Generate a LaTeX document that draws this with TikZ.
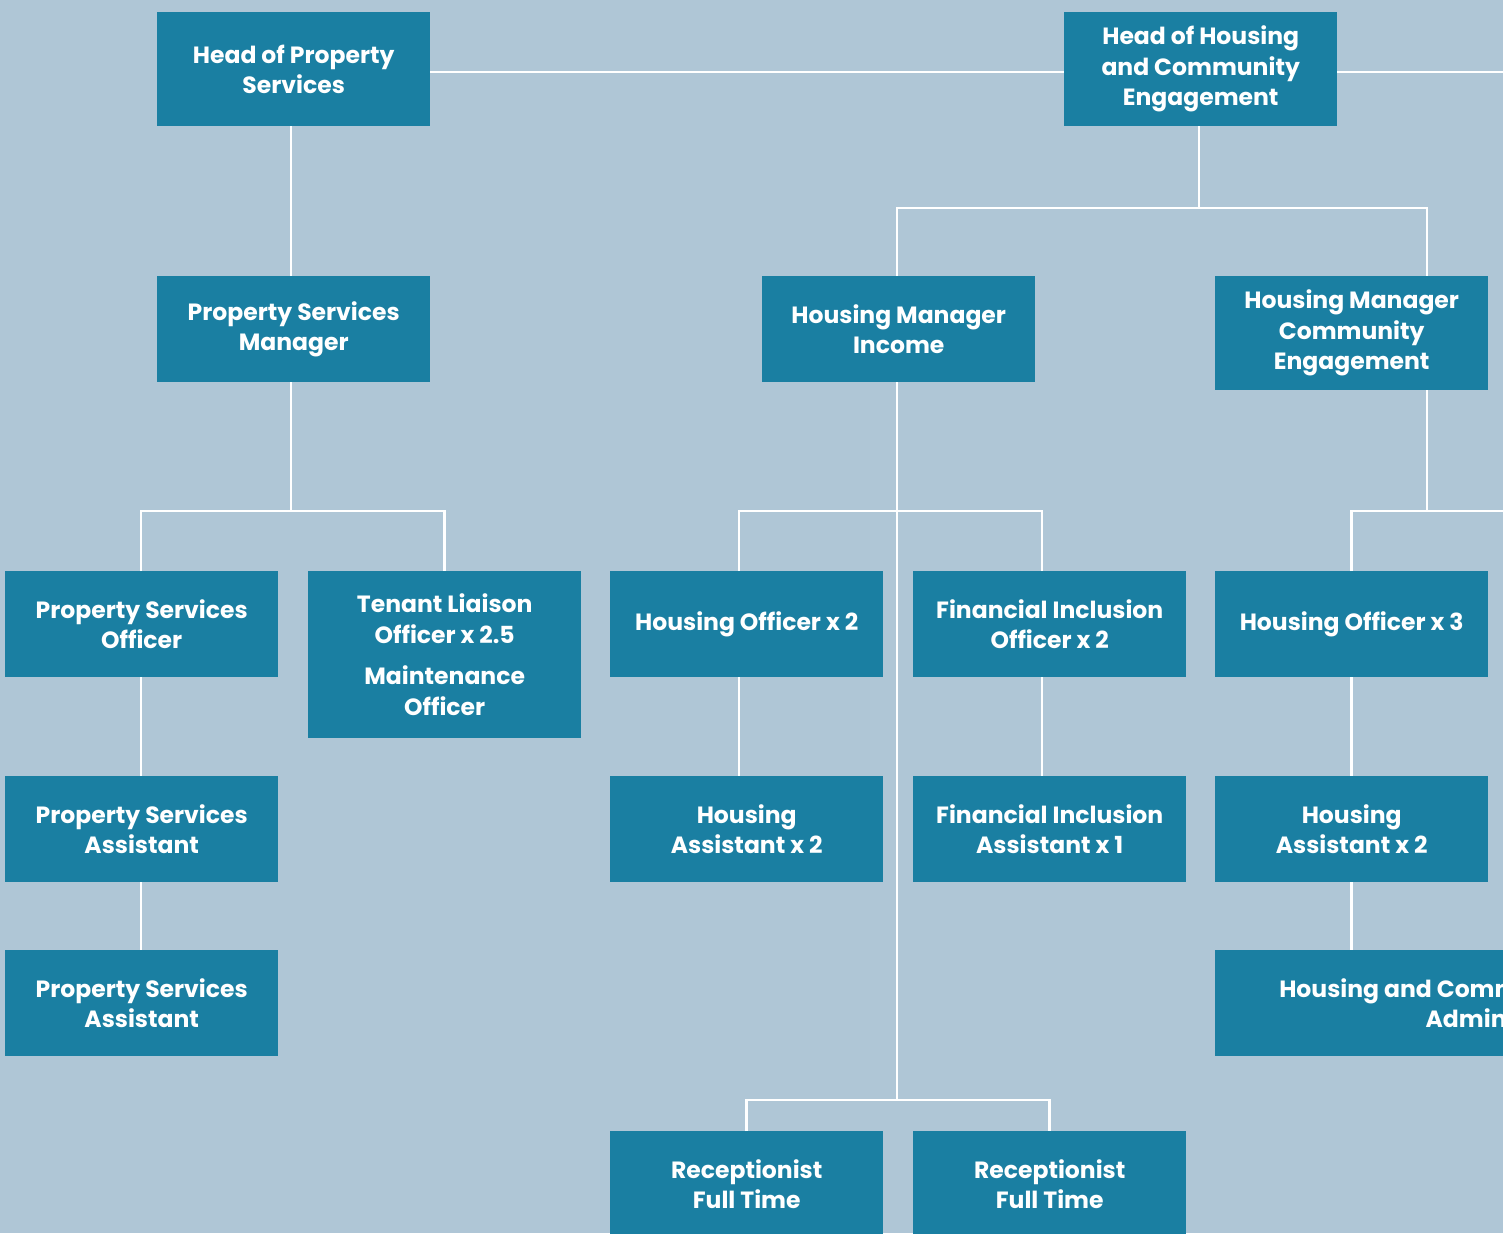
\documentclass[tikz,border=0pt]{standalone}
\usepackage{fontspec}
\setmainfont{Poppins}
\definecolor{bg}{HTML}{AFC6D6}
\definecolor{boxc}{HTML}{1A7FA2}
\begin{document}
\begin{tikzpicture}[x=1pt,y=-1pt,
  role/.style={fill=boxc, text=white, font=\fontsize{23.5}{30.5}\selectfont\bfseries, align=center,
    minimum width=273pt, minimum height=106pt, inner sep=0pt, anchor=north west},
  link/.style={draw=white, line width=2.5pt}]
\useasboundingbox (0,0) rectangle (1503,1233);
\fill[bg] (0,0) rectangle (1503,1233);
\clip (0,0) rectangle (1503,1233);
% nodes
\node[role, minimum height=114pt] (hps) at (157,12) {Head of Property\\Services};
\node[role, minimum height=114pt] (hhce) at (1064,12) {Head of Housing\\and Community\\Engagement};
\node[role] (psm) at (157,276) {Property Services\\Manager};
\node[role] (hmi) at (762,276) {Housing Manager\\Income};
\node[role, minimum height=114pt] (hmce) at (1215,276) {Housing Manager\\Community\\Engagement};
\node[role] (pso) at (5,571) {Property Services\\Officer};
\node[role, minimum height=167pt] (tlo) at (308,571) {Tenant Liaison\\Officer x 2.5\\[11pt]Maintenance\\Officer};
\node[role] (ho2) at (610,571) {Housing Officer x 2};
\node[role] (fio) at (913,571) {Financial Inclusion\\Officer x 2};
\node[role] (ho3) at (1215,571) {Housing Officer x 3};
\node[role] (psa1) at (5,776) {Property Services\\Assistant};
\node[role] (ha2) at (610,776) {Housing\\Assistant x 2};
\node[role] (fia) at (913,776) {Financial Inclusion\\Assistant x 1};
\node[role] (ha3) at (1215,776) {Housing\\Assistant x 2};
\node[role] (psa2) at (5,950) {Property Services\\Assistant};
\node[role, minimum width=592pt] (hca) at (1215,950) {Housing and Community Engagement\\Administrator};
\node[role] (rec1) at (610,1131) {Receptionist\\Full Time};
\node[role] (rec2) at (913,1131) {Receptionist\\Full Time};
% helper coordinates
\coordinate (bus1) at (0,208);
\coordinate (bus2) at (0,511);
\coordinate (bus3) at (0,511);
\coordinate (bus4) at (0,1100);
\coordinate (offR) at (1520,0);
\coordinate (hpsOut) at ([xshift=-2.5pt]hps.south);
\coordinate (psmIn) at ([xshift=-2.5pt]psm.north);
\coordinate (psmOut) at ([xshift=-2.5pt]psm.south);
\coordinate (hhceOut) at ([xshift=-1.5pt]hhce.south);
\coordinate (hmiIn) at ([xshift=-1.5pt]hmi.north);
\coordinate (hmiOut) at ([xshift=-1.5pt]hmi.south);
\coordinate (hmceIn) at ([xshift=75.5pt]hmce.north);
\coordinate (hmceOut) at ([xshift=75.5pt]hmce.south);
\coordinate (ho2In) at ([xshift=-7.5pt]ho2.north);
\coordinate (ho2Out) at ([xshift=-7.5pt]ho2.south);
\coordinate (ha2In) at ([xshift=-7.5pt]ha2.north);
\coordinate (fioIn) at ([xshift=-7.5pt]fio.north);
\coordinate (fioOut) at ([xshift=-7.5pt]fio.south);
\coordinate (fiaIn) at ([xshift=-7.5pt]fia.north);
\coordinate (hcaIn) at (ho3.south |- hca.north);
% connectors
\draw[link] ([yshift=-3pt]hps.east) -- ([yshift=-3pt]hhce.west);
\draw[link] ([yshift=-3pt]hhce.east) -- ([yshift=-3pt]offR |- hhce.east);
\draw[link] (hpsOut) -- (psmIn);
\draw[link] (hhceOut) -- (hhceOut |- bus1);
\draw[link] (hmiIn) |- (hmceIn |- bus1) -- (hmceIn);
\draw[link] (psmOut) -- (psmOut |- bus2);
\draw[link] ([xshift=-0.5pt]pso.north) |- (tlo.north |- bus2) -- (tlo.north);
\draw[link] (hmiOut) -- (hmiOut |- bus4);
\draw[link] (ho2In) |- (fioIn |- bus3) -- (fioIn);
\draw[link] (rec1.north) |- (rec2.north |- bus4) -- (rec2.north);
\draw[link] (hmceOut) -- (hmceOut |- bus3);
\draw[link] (ho3.north) |- (offR |- bus3);
\draw[link] ([xshift=-0.5pt]pso.south) -- ([xshift=-0.5pt]psa1.north);
\draw[link] ([xshift=-0.5pt]psa1.south) -- ([xshift=-0.5pt]psa2.north);
\draw[link] (ho2Out) -- (ha2In);
\draw[link] (fioOut) -- (fiaIn);
\draw[link] (ho3.south) -- (ha3.north);
\draw[link] (ha3.south) -- (hcaIn);
\end{tikzpicture}
\end{document}
